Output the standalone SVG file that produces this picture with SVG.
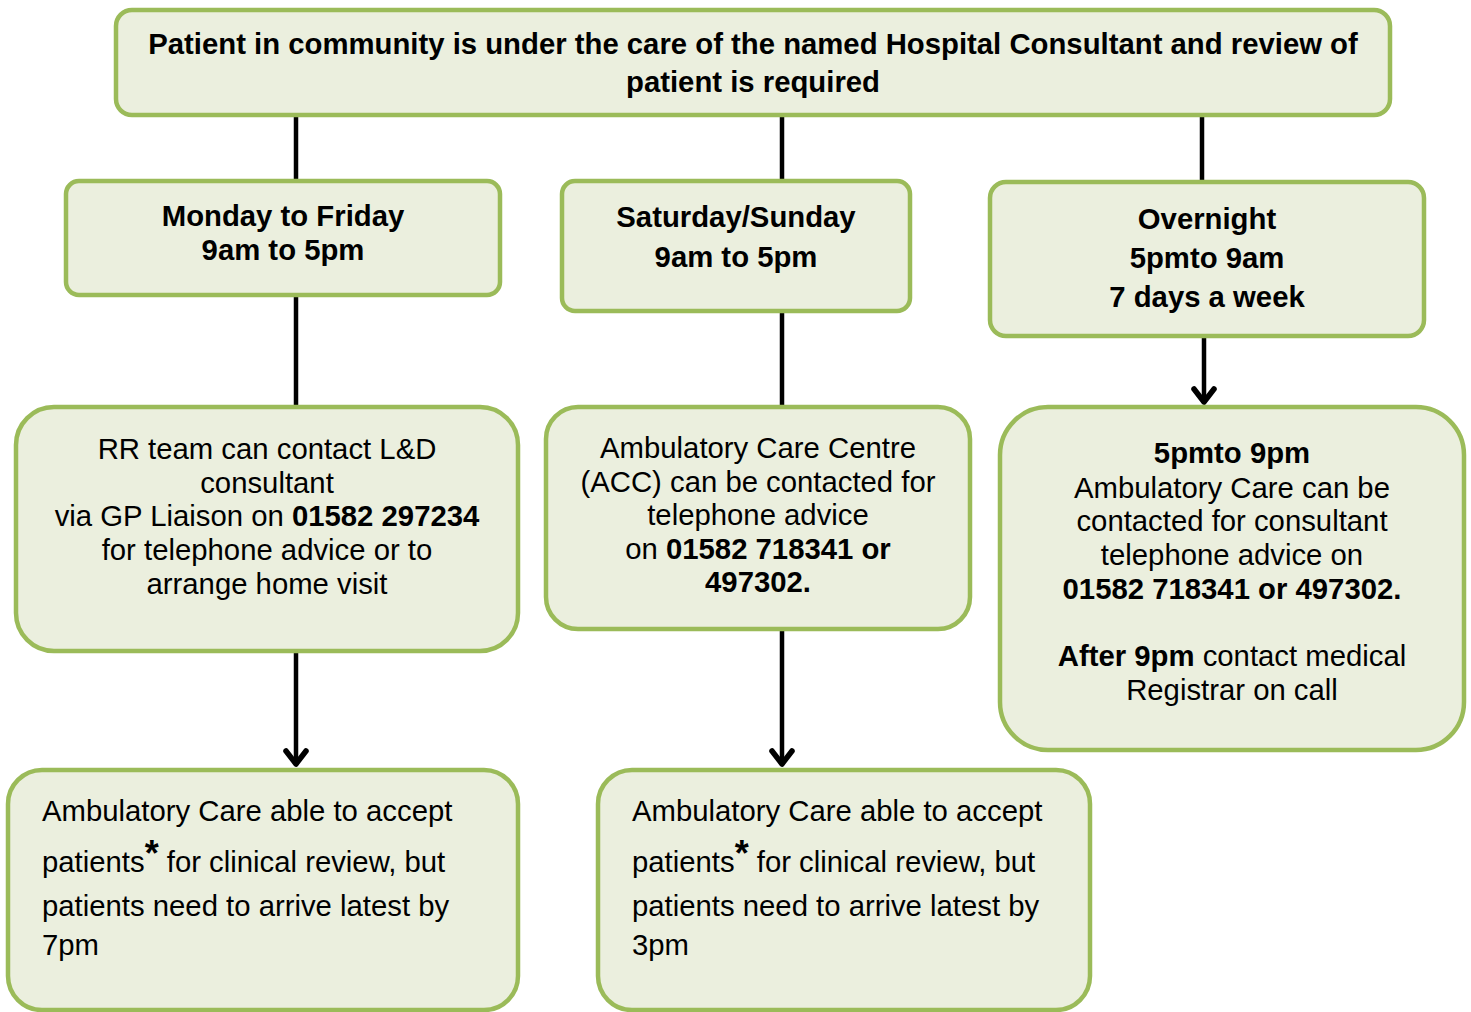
<svg xmlns="http://www.w3.org/2000/svg" width="1471" height="1012" viewBox="0 0 1471 1012">
<style>
.box{fill:#EBEFDE;stroke:#9BBB59;stroke-width:4.5}
text{font-family:"Liberation Sans",Arial,sans-serif;font-size:29.3px;fill:#000}
.b{font-weight:bold}
.c{text-anchor:middle}
.con{stroke:#000;stroke-width:4.5;fill:none}
</style>
<defs>
<marker id="ah" markerWidth="22" markerHeight="26" refX="18" refY="13" orient="auto" markerUnits="userSpaceOnUse" viewBox="0 0 22 26">
<path d="M4,3 L17,13 L4,23" fill="none" stroke="#000" stroke-width="5.5" stroke-linejoin="round" stroke-linecap="round"/>
</marker>
</defs>
<rect width="1471" height="1012" fill="#fff"/>
<g id="connectors">
<line class="con" x1="296" y1="115" x2="296" y2="181"/>
<line class="con" x1="782" y1="115" x2="782" y2="181"/>
<line class="con" x1="1202" y1="115" x2="1202" y2="182"/>
<line class="con" x1="296" y1="295" x2="296" y2="407"/>
<line class="con" x1="782" y1="311" x2="782" y2="407"/>
<line class="con" x1="296" y1="651" x2="296" y2="765" marker-end="url(#ah)"/>
<line class="con" x1="782" y1="629" x2="782" y2="765" marker-end="url(#ah)"/>
<line class="con" x1="1204" y1="336" x2="1204" y2="403" marker-end="url(#ah)"/>
</g>
<g id="top">
<rect class="box" x="116" y="10" width="1274" height="105" rx="16"/>
<text class="b c" x="753" y="54">Patient in community is under the care of the named Hospital Consultant and review of</text>
<text class="b c" x="753" y="92">patient is required</text>
</g>
<g id="monfri">
<rect class="box" x="66" y="181" width="434" height="114" rx="13"/>
<text class="b c" x="283" y="226">Monday to Friday</text>
<text class="b c" x="283" y="260">9am to 5pm</text>
</g>
<g id="satsun">
<rect class="box" x="562" y="181" width="348" height="130" rx="13"/>
<text class="b c" x="736" y="227">Saturday/Sunday</text>
<text class="b c" x="736" y="267">9am to 5pm</text>
</g>
<g id="overnight">
<rect class="box" x="990" y="182" width="434" height="154" rx="16"/>
<text class="b c" x="1207" y="229">Overnight</text>
<text class="b c" x="1207" y="268">5pmto 9am</text>
<text class="b c" x="1207" y="307">7 days a week</text>
</g>
<g id="rr">
<rect class="box" x="16" y="407" width="502" height="244" rx="38"/>
<text class="c" x="267" y="459">RR team can contact L&amp;D</text>
<text class="c" x="267" y="493">consultant</text>
<text class="c" x="267" y="526">via GP Liaison on <tspan class="b">01582 297234</tspan></text>
<text class="c" x="267" y="560">for telephone advice or to</text>
<text class="c" x="267" y="594">arrange home visit</text>
</g>
<g id="acc">
<rect class="box" x="546" y="407" width="424" height="222" rx="32"/>
<text class="c" x="758" y="458">Ambulatory Care Centre</text>
<text class="c" x="758" y="492">(ACC) can be contacted for</text>
<text class="c" x="758" y="525">telephone advice</text>
<text class="c" x="758" y="559">on <tspan class="b">01582 718341 or</tspan></text>
<text class="b c" x="758" y="592">497302.</text>
</g>
<g id="evening">
<rect class="box" x="1000" y="407" width="464" height="343" rx="48"/>
<text class="b c" x="1232" y="463">5pmto 9pm</text>
<text class="c" x="1232" y="498">Ambulatory Care can be</text>
<text class="c" x="1232" y="531">contacted for consultant</text>
<text class="c" x="1232" y="565">telephone advice on</text>
<text class="b c" x="1232" y="599">01582 718341 or 497302.</text>
<text class="c" x="1232" y="666"><tspan class="b">After 9pm</tspan> contact medical</text>
<text class="c" x="1232" y="700">Registrar on call</text>
</g>
<g id="acc7pm">
<rect class="box" x="8" y="770" width="510" height="240" rx="34"/>
<text x="42" y="821">Ambulatory Care able to accept</text>
<text x="42" y="872">patients<tspan class="b" font-size="36" dy="-6">*</tspan><tspan dy="6"> for clinical review, but</tspan></text>
<text x="42" y="916">patients need to arrive latest by</text>
<text x="42" y="955">7pm</text>
</g>
<g id="acc3pm">
<rect class="box" x="598" y="770" width="492" height="240" rx="34"/>
<text x="632" y="821">Ambulatory Care able to accept</text>
<text x="632" y="872">patients<tspan class="b" font-size="36" dy="-6">*</tspan><tspan dy="6"> for clinical review, but</tspan></text>
<text x="632" y="916">patients need to arrive latest by</text>
<text x="632" y="955">3pm</text>
</g>
</svg>
